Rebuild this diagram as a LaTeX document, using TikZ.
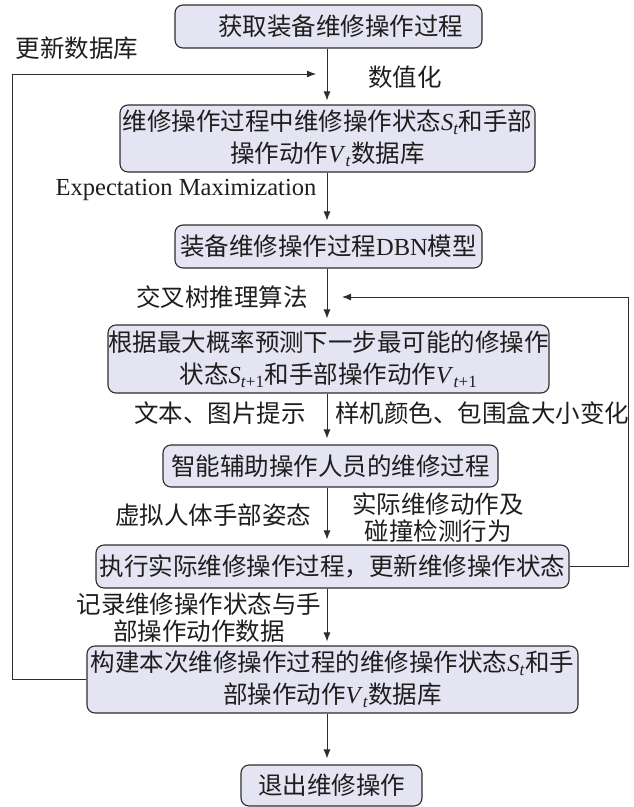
\documentclass[tikz,border=0pt]{standalone}
\usepackage{fontspec}
\setmainfont{Noto Sans CJK SC}
\newfontfamily\lat{Liberation Serif}
\usetikzlibrary{arrows.meta}
\definecolor{boxfill}{RGB}{228,228,242}
\definecolor{linec}{RGB}{45,45,45}
\definecolor{textc}{RGB}{30,30,30}
\newcommand{\sv}[2]{{\lat\textit{#1}\textsubscript{\textit{#2}}}}
\newcommand{\svp}[2]{{\lat\textit{#1}\textsubscript{\textit{#2}+1}}}
\begin{document}
\begin{tikzpicture}[x=1pt,y=-1pt,
  every node/.style={text=textc, font=\fontsize{24.5}{32}\selectfont},
  procbox/.style={draw=linec, line width=1.1pt, fill=boxfill, rounded corners=8pt,
    inner sep=0pt, align=center},
  lbl/.style={inner sep=0pt, align=center, font=\fontsize{24.5}{27}\selectfont},
  flow/.style={draw=linec, line width=0.9pt, -{Latex[length=9pt,width=7pt]}}]
\useasboundingbox (0,0) rectangle (633,807);

\node[procbox, minimum width=307pt, minimum height=43pt] (b1) at (328.5,26.5) {\hspace*{24pt}获取装备维修操作过程};
\node[procbox, minimum width=415pt, minimum height=67pt] (b2) at (327.5,138.5) {维修操作过程中维修操作状态\sv{S}{t}和手部\\操作动作\sv{V}{t}数据库};
\node[procbox, minimum width=307pt, minimum height=43pt] (b3) at (328.5,246.5) {装备维修操作过程{\lat DBN}模型};
\node[procbox, minimum width=441pt, minimum height=68pt] (b4) at (328.5,359) {根据最大概率预测下一步最可能的修操作\\状态\svp{S}{t}和手部操作动作\svp{V}{t}};
\node[procbox, minimum width=335pt, minimum height=42pt] (b5) at (330.5,466) {智能辅助操作人员的维修过程};
\node[procbox, minimum width=473pt, minimum height=43pt] (b6) at (332.5,566.5) {执行实际维修操作过程，更新维修操作状态};
\node[procbox, minimum width=491pt, minimum height=67pt] (b7) at (332.5,679.5) {构建本次维修操作过程的维修操作状态\sv{S}{t}和手\\部操作动作\sv{V}{t}数据库};
\node[procbox, minimum width=181pt, minimum height=41pt] (b8) at (331.5,785.5) {退出维修操作};

\coordinate (ax) at (327,0);
\draw[flow, shorten >=4pt] (b1.south -| ax) -- (b2.north -| ax);
\draw[flow, shorten >=4pt] (b2.south -| ax) -- (b3.north -| ax);
\draw[flow, shorten >=6pt] (b3.south -| ax) -- (b4.north -| ax);
\draw[flow, shorten >=6pt] (b4.south -| ax) -- (b5.north -| ax);
\draw[flow, shorten >=5pt] (b5.south -| ax) -- (b6.north -| ax);
\draw[flow, shorten >=4pt] (b6.south -| ax) -- (b7.north -| ax);
\draw[flow, shorten >=6pt] (b7.south -| ax) -- (b8.north -| ax);

% feedback loops
\coordinate (lx) at (12,0);
\coordinate (ltip) at (316,74);
\draw[flow] (b7.west) -- (b7.west -| lx) -- (ltip -| lx) -- (ltip);
\coordinate (rx) at (628,0);
\coordinate (rtip) at (342,297);
\draw[flow] (b6.east) -- (b6.east -| rx) -- (rtip -| rx) -- (rtip);

% labels
\node[lbl] (l1) at (77,48) {更新数据库};
\node[lbl] (l2) at (405,77) {数值化};
\node[lbl, font=\lat\fontsize{24.5}{27}\selectfont] (l3) at (186,190) {Expectation Maximization};
\node[lbl] (l4) at (222,297) {交叉树推理算法};
\node[lbl] (l5) at (220,413) {文本、图片提示};
\node[lbl] (l6) at (482,413) {样机颜色、包围盒大小变化};
\node[lbl] (l7) at (213,515) {虚拟人体手部姿态};
\node[lbl] (l8) at (438,518) {实际维修动作及\\碰撞检测行为};
\node[lbl] (l9) at (199,618) {记录维修操作状态与手\\部操作动作数据};
\end{tikzpicture}
\end{document}
